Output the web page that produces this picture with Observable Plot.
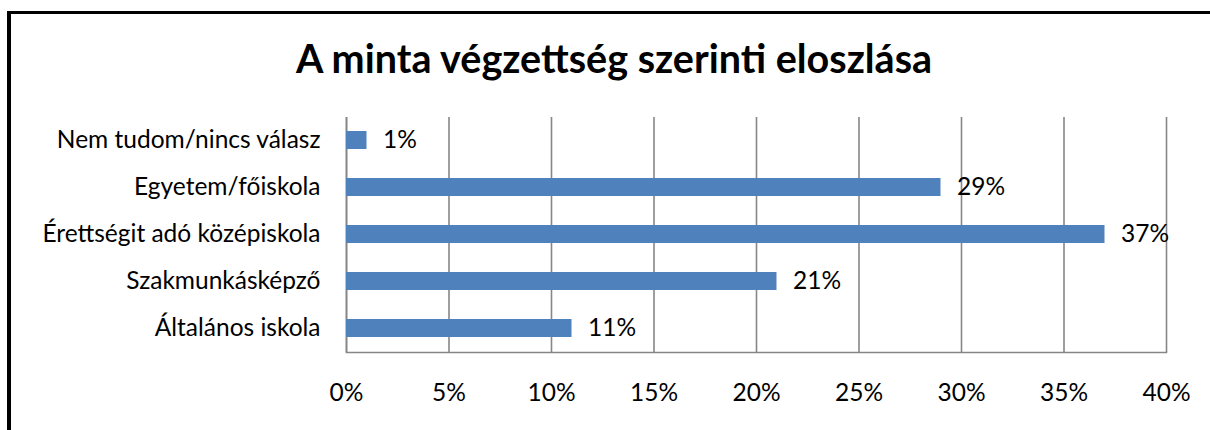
<!DOCTYPE html>
<html>
<head>
<meta charset="utf-8">
<script src="https://cdn.jsdelivr.net/npm/d3@7"></script>
<script src="https://cdn.jsdelivr.net/npm/@observablehq/plot@0.6"></script>
<style>
  html, body { margin: 0; padding: 0; background: #fff; }
  body { width: 1210px; height: 430px; position: relative; overflow: hidden; font-family: Lato, "Open Sans", sans-serif; }
  #frame { position: absolute; left: 7px; top: 11px; width: 1300px; height: 500px; border-left: 4px solid #000; border-top: 3px solid #000; box-sizing: border-box; }
  #title { position: absolute; left: 0; width: 1228px; top: 35px; text-align: center; font-weight: bold; font-size: 39.5px; color: #000; line-height: 46px; }
  #chart { position: absolute; left: 0; top: 0; }
</style>
</head>
<body>
<div id="frame"></div>
<div id="title">A minta végzettség szerinti eloszlása</div>
<div id="chart"></div>
<script>
const categories = ["Nem tudom/nincs válasz", "Egyetem/főiskola", "Érettségit adó középiskola", "Szakmunkásképző", "Általános iskola"];
const values = [1, 29, 37, 21, 11];
const xTicks = [0, 5, 10, 15, 20, 25, 30, 35, 40];

const data = categories.map((c, i) => ({category: c, value: values[i]}));
const gridColor = "#868686";
const fontSize = 24.5;

const chart = Plot.plot({
  width: 1210,
  height: 430,
  marginLeft: 346,
  marginRight: 44,
  marginTop: 117,
  marginBottom: 78,
  style: {fontFamily: "Lato, 'Open Sans', sans-serif", fontSize: fontSize + "px", color: "#000", background: "transparent", overflow: "visible"},
  x: {domain: [0, 40]},
  y: {domain: categories, paddingInner: 0.617, paddingOuter: 0.3085},
  marks: [
    Plot.gridX(xTicks, {stroke: gridColor, strokeOpacity: 1, strokeWidth: 1.6}),
    Plot.frame({anchor: "bottom", stroke: gridColor, strokeWidth: 1.6}),
    Plot.ruleX([0], {stroke: gridColor, strokeWidth: 1.6}),
    Plot.barX(data, {x: "value", y: "category", fill: "#4F81BD"}),
    Plot.text(data, {x: "value", y: "category", text: d => d.value + "%", textAnchor: "start", dx: 16, fill: "#000", fontSize: fontSize}),
    Plot.axisX(xTicks, {tickSize: 0, tickPadding: 31, tickFormat: d => d + "%", fontSize: fontSize, label: null}),
    Plot.axisY({tickSize: 0, tickPadding: 26, fontSize: fontSize, label: null})
  ]
});
document.getElementById("chart").appendChild(chart);
</script>
</body>
</html>
